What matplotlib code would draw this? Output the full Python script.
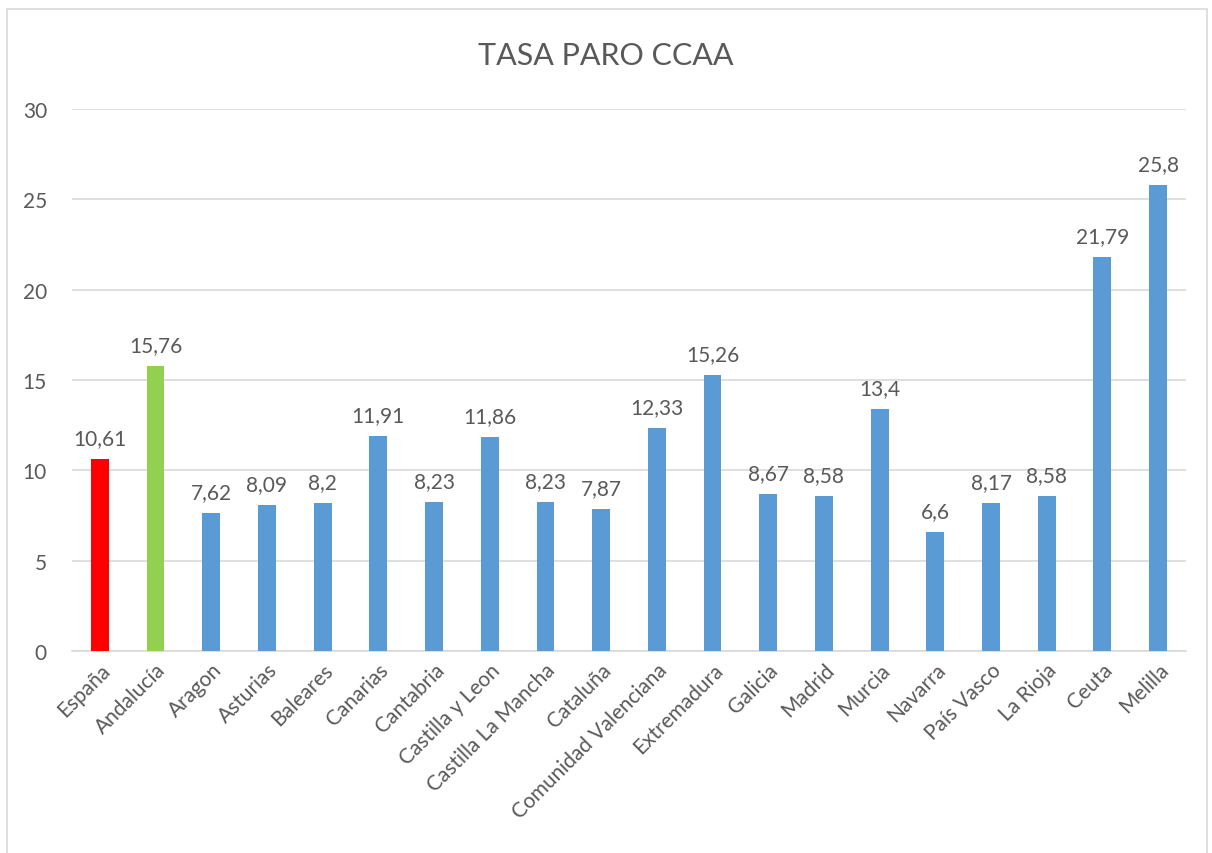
import matplotlib
matplotlib.use("Agg")
import matplotlib.pyplot as plt
from matplotlib.patches import Rectangle

regiones = ["España", "Andalucía", "Aragon", "Asturias", "Baleares", "Canarias",
            "Cantabria", "Castilla y Leon", "Castilla La Mancha", "Cataluña",
            "Comunidad Valenciana", "Extremadura", "Galicia", "Madrid", "Murcia",
            "Navarra", "País Vasco", "La Rioja", "Ceuta", "Melilla"]
tasa = [10.61, 15.76, 7.62, 8.09, 8.2, 11.91, 8.23, 11.86, 8.23, 7.87,
        12.33, 15.26, 8.67, 8.58, 13.4, 6.6, 8.17, 8.58, 21.79, 25.8]
etiquetas = ["10,61", "15,76", "7,62", "8,09", "8,2", "11,91", "8,23", "11,86", "8,23", "7,87",
             "12,33", "15,26", "8,67", "8,58", "13,4", "6,6", "8,17", "8,58", "21,79", "25,8"]

_TXT = "#595959"
_GRID = "#D9D9D9"
colores = ["#FF0000", "#92D050"] + ["#5B9BD5"] * (len(regiones) - 2)

plt.rcParams["font.family"] = ["Lato", "DejaVu Sans"]

fig = plt.figure(figsize=(12.12, 8.54), dpi=100, facecolor="white")
ax = fig.add_axes([0.0594, 0.2365, 0.9191, 0.6347])

xs = list(range(len(regiones)))
ax.bar(xs, tasa, width=0.32, color=colores, zorder=3)
for x, v, t in zip(xs, tasa, etiquetas):
    ax.annotate(t, xy=(x, v), xytext=(0, 8), textcoords="offset points",
                ha="center", va="bottom", fontsize=15, color=_TXT)

ax.set_xlim(-0.5, len(regiones) - 0.5)
ax.set_ylim(0, 30)
ax.set_yticks(range(0, 31, 5))
ax.grid(True, axis="y", color=_GRID, linewidth=1.2, zorder=0)
for s in ["top", "right", "left"]:
    ax.spines[s].set_visible(False)
ax.spines["bottom"].set_color(_GRID)
ax.spines["bottom"].set_linewidth(1.2)
ax.tick_params(axis="y", length=0, colors=_TXT, labelsize=15, pad=18)
ax.tick_params(axis="x", length=0, colors=_TXT, pad=6)
ax.set_xticks(xs)
ax.set_xticklabels(regiones, rotation=45, ha="right", rotation_mode="anchor",
                   fontsize=15, color=_TXT)

fig.text(0.5, 0.935, "TASA PARO CCAA", ha="center", va="center",
         fontsize=22, color=_TXT)

fig.patches.append(Rectangle((0.006, -0.01), 0.99, 0.998, transform=fig.transFigure,
                             fill=False, edgecolor="#D9D9D9", linewidth=1.2))

fig.savefig("out.png", dpi=100, facecolor="white")
